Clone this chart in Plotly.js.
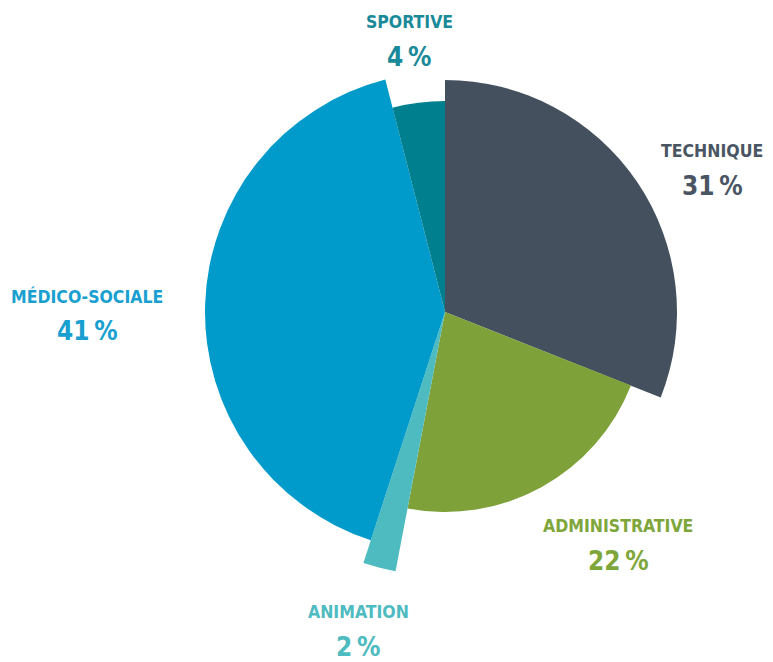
<!DOCTYPE html>
<html><head><meta charset="utf-8">
<script src="https://cdn.plot.ly/plotly-3.0.1.min.js"></script>
<style>html,body{margin:0;padding:0;background:#fff}#chart{width:773px;height:662px}</style>
</head><body><div id="chart"></div>
<script>
const categories = ["TECHNIQUE", "ADMINISTRATIVE", "ANIMATION", "MÉDICO-SOCIALE", "SPORTIVE"];
const percents = [31, 22, 2, 41, 4];
const radii = [232, 200, 264, 240, 211];
const colors = ["#44505e", "#7ea13a", "#4dbbbf", "#009bcb", "#007f8f"];
const labelColors = ["#4a5563", "#7ea63a", "#4dbbbf", "#19a0d0", "#1a8a9a"];
const labelPos = [[712, 151], [618, 526], [358, 612], [87, 296], [409, 22]];

const total = percents.reduce((a, b) => a + b, 0);
const widths = percents.map(p => p / total * 360);
let acc = 0;
const thetas = widths.map(w => { const c = acc + w / 2; acc += w; return c; });

const W = 773, H = 662, cx = 445, cy = 312, R = 265;
const FAM = '"DejaVu Sans Condensed", "DejaVu Sans", sans-serif';
const trace = {
  type: 'barpolar',
  r: radii, theta: thetas, width: widths,
  marker: {color: colors, line: {width: 0}},
  hoverinfo: 'skip'
};
const annotations = [];
categories.forEach((c, i) => {
  const [x, y] = labelPos[i];
  annotations.push({xref: 'paper', yref: 'paper', x: x / W, y: 1 - y / H, xanchor: 'center', yanchor: 'middle',
    text: '<b>' + c + '</b>', showarrow: false,
    font: {family: FAM, size: 17.5, color: labelColors[i]}});
  annotations.push({xref: 'paper', yref: 'paper', x: x / W, y: 1 - (y + 35) / H, xanchor: 'center', yanchor: 'middle',
    text: '<b>' + percents[i] + '\u2009%</b>', showarrow: false,
    font: {family: FAM, size: 26, color: labelColors[i]}});
});
const layout = {
  width: W, height: H,
  margin: {l: 0, r: 0, t: 0, b: 0},
  paper_bgcolor: '#fff',
  showlegend: false,
  polar: {
    domain: {x: [(cx - R) / W, (cx + R) / W], y: [(H - cy - R) / H, (H - cy + R) / H]},
    bgcolor: 'rgba(0,0,0,0)',
    bargap: 0,
    radialaxis: {range: [0, R], visible: false, showgrid: false},
    angularaxis: {rotation: 90, direction: 'clockwise', visible: false, showgrid: false, showline: false, ticks: ''}
  },
  annotations: annotations
};
Plotly.newPlot('chart', [trace], layout, {displayModeBar: false, staticPlot: true});
</script></body></html>
